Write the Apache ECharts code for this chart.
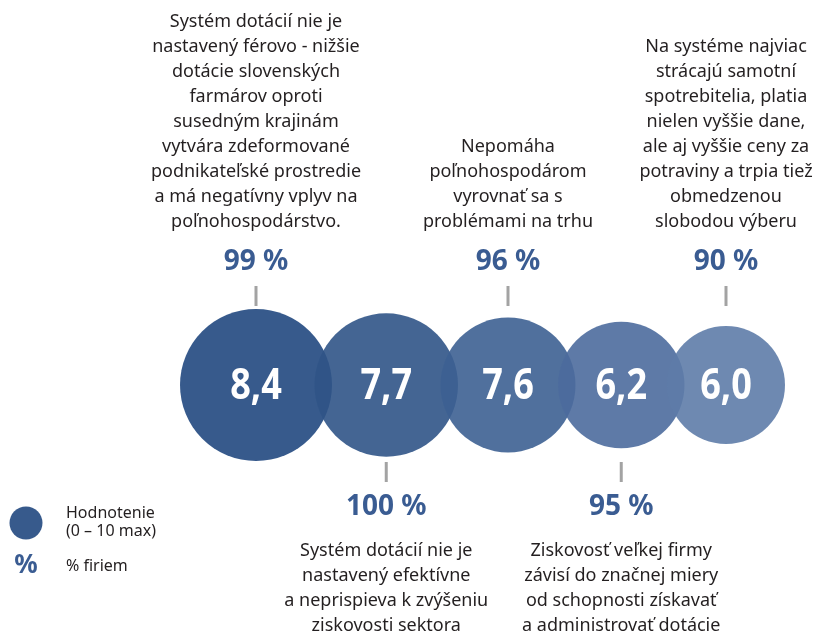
<!DOCTYPE html>
<html><head><meta charset="utf-8">
<script src="https://cdn.jsdelivr.net/npm/echarts@6/dist/echarts.min.js"></script>
<style>html,body{margin:0;padding:0;background:#fff}#c{width:820px;height:635px}</style>
</head><body><div id="c"></div>
<script>
// ---- data ----
const ratings = [8.4, 7.7, 7.6, 6.2, 6.0];          // Hodnotenie (0 – 10 max)
const shares = [99, 100, 96, 95, 90];                // % firiem
const statements = [
  'Systém dotácií nie je\nnastavený férovo - nižšie\ndotácie slovenských\nfarmárov oproti\nsusedným krajinám\nvytvára zdeformované\npodnikateľské prostredie\na má negatívny vplyv na\npoľnohospodárstvo.',
  'Systém dotácií nie je\nnastavený efektívne\na neprispieva k zvýšeniu\nziskovosti sektora',
  'Nepomáha\npoľnohospodárom\nvyrovnať sa s\nproblémami na trhu',
  'Ziskovosť veľkej firmy\nzávisí do značnej miery\nod schopnosti získavať\na administrovať dotácie',
  'Na systéme najviac\nstrácajú samotní\nspotrebitelia, platia\nnielen vyššie dane,\nale aj vyššie ceny za\npotraviny a trpia tiež\nobmedzenou\nslobodou výberu'
];
const legendTexts = ['Hodnotenie\n(0 – 10 max)', '% firiem'];

// ---- styles / layout ----
const colors = ['rgba(33,72,127,0.9)','rgba(48,84,135,0.9)','rgba(61,96,146,0.9)','rgba(76,108,157,0.9)','rgba(94,124,168,0.9)'];
const W = 820, H = 635, CY = 385, X0 = 256, D0 = 152, DSTEP = 8.5, OVER = 17.5;
const TEXT = '#231f20', BLUE = '#3a5c92', TICK = '#a3a3a3';
const FONT = '"Noto Sans", "Open Sans", sans-serif';

const diam = ratings.map((v, i) => D0 - DSTEP * i);
const xs = [];
diam.forEach((d, i) => { xs.push(i === 0 ? X0 : xs[i - 1] + diam[i - 1] / 2 + d / 2 - OVER); });

const chart = echarts.init(document.getElementById('c'));
chart.setOption({
  animation: false,
  grid: { left: 0, right: 0, top: 0, bottom: 0 },
  xAxis: { type: 'value', min: 0, max: W, show: false },
  yAxis: { type: 'value', min: 0, max: H, inverse: true, show: false },
  series: [{
    type: 'scatter',
    symbol: 'circle',
    data: ratings.map((v, i) => ({
      value: [xs[i], CY, v],
      symbolSize: diam[i],
      itemStyle: { color: colors[i], opacity: 1 }
    })),
    label: { show: false },
    emphasis: { disabled: true }
  }]
});

const g = [];
ratings.forEach((v, i) => {
  const [px, py] = chart.convertToPixel({ gridIndex: 0 }, [xs[i], CY]);
  const top = i % 2 === 0;
  const s = top ? -1 : 1;
  // value inside circle (condensed look via scaleX)
  g.push({ type: 'text', x: px, y: py + 2, scaleX: 0.84, z: 10,
    style: { text: v.toFixed(1).replace('.', ','), x: 0, y: 0, align: 'center', verticalAlign: 'middle',
      fill: '#fff', font: 'bold 43px ' + FONT } });
  g.push({ type: 'line', shape: { x1: px, y1: py + s * (top ? 79 : 77), x2: px, y2: py + s * (top ? 99 : 97) },
    style: { stroke: TICK, lineWidth: 3 } });
  g.push({ type: 'text', style: { text: shares[i] + ' %', x: px, y: py + s * (top ? 123 : 122),
    align: 'center', verticalAlign: 'middle', fill: BLUE, font: 'bold 28px ' + FONT } });
  g.push({ type: 'text', style: { text: statements[i], x: px, y: top ? py - 150.5 : py + 153.5,
    align: 'center', verticalAlign: top ? 'bottom' : 'top', lineHeight: 25,
    fill: TEXT, font: '18px ' + FONT } });
});
// legend
g.push({ type: 'circle', shape: { cx: 26, cy: 523, r: 16.5 }, style: { fill: colors[0] } });
g.push({ type: 'text', style: { text: legendTexts[0], x: 66, y: 504, lineHeight: 18, verticalAlign: 'top',
  fill: TEXT, font: '16px ' + FONT } });
g.push({ type: 'text', style: { text: '%', x: 26, y: 566, align: 'center', verticalAlign: 'middle',
  fill: BLUE, font: 'bold 26px ' + FONT } });
g.push({ type: 'text', style: { text: legendTexts[1], x: 66, y: 566, verticalAlign: 'middle',
  fill: TEXT, font: '16px ' + FONT } });
chart.setOption({ graphic: { elements: g } });
</script></body></html>
